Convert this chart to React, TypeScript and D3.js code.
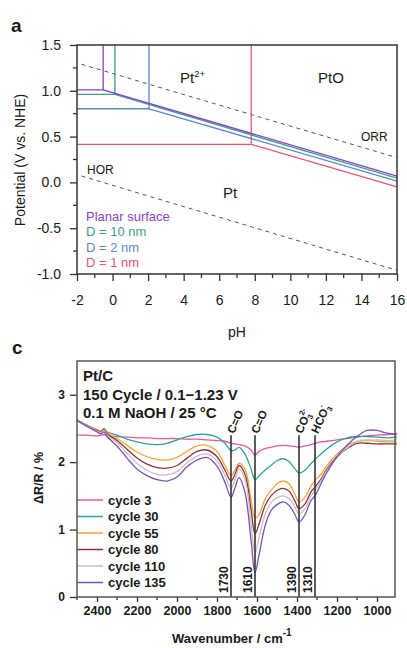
import React, { useEffect, useRef } from "react";
import * as d3 from "d3";

const FONT = "'Liberation Sans', Arial, Helvetica, sans-serif";

// ---- panel a : Pt Pourbaix diagram ----
const phTicks = [-2, 0, 2, 4, 6, 8, 10, 12, 14, 16];
const phMinor = [-1, 1, 3, 5, 7, 9, 11, 13, 15];
const potentialTicks = [-1, -0.5, 0, 0.5, 1, 1.5];
const potentialMinor = [-0.75, -0.25, 0.25, 0.75, 1.25];
const sizeLabels = ["Planar surface", "D = 10 nm", "D = 2 nm", "D = 1 nm"];
const sizeColors = ["#8b3fc8", "#3f9e8e", "#6286c4", "#e2566e"];
const dissolutionE = [1.01, 0.961, 0.804, 0.415]; // Pt / Pt2+ (V)
const oxidePH = [-0.53, 0.13, 2.05, 7.8]; // Pt2+ / PtO
const oxideEAt16 = [0.068, 0.046, 0.013, -0.049]; // Pt / PtO at pH 16
const orrLine: [number, number][] = [[-1.75, 1.29], [16, 0.27]];
const horLine: [number, number][] = [[-1.75, 0.07], [16, -0.96]];

// ---- panel c : IR spectra ----
const wavenumbers = [
  2500, 2450, 2400, 2380, 2365, 2350, 2300, 2250, 2200, 2150, 2100, 2050, 2000,
  1950, 1900, 1850, 1800, 1760, 1730, 1710, 1690,
  1660, 1630, 1610, 1590, 1560, 1530, 1500, 1470,
  1440, 1410, 1390, 1360, 1330, 1310, 1280, 1250,
  1200, 1150, 1100, 1050, 1000, 950, 900,
];
const cycle3 = [
  2.40, 2.40, 2.39, 2.40, 2.41, 2.39, 2.38, 2.37, 2.36, 2.36, 2.35, 2.35, 2.35,
  2.34, 2.34, 2.33, 2.32, 2.31, 2.28, 2.27, 2.26,
  2.24, 2.18, 2.10, 2.16, 2.20, 2.22, 2.24, 2.25,
  2.24, 2.23, 2.22, 2.24, 2.26, 2.28, 2.30, 2.31,
  2.33, 2.35, 2.37, 2.39, 2.40, 2.41, 2.41,
];
const cycle30 = [
  2.62, 2.55, 2.48, 2.46, 2.50, 2.45, 2.40, 2.34, 2.30, 2.27, 2.26, 2.28, 2.33,
  2.38, 2.41, 2.41, 2.37, 2.28, 2.17, 2.18, 2.22,
  2.12, 1.90, 1.74, 1.80, 1.88, 1.95, 2.02, 2.05,
  2.01, 1.90, 1.84, 1.88, 1.98, 2.04, 2.12, 2.20,
  2.30, 2.36, 2.38, 2.38, 2.37, 2.36, 2.37,
];
const cycle55 = [
  2.62, 2.55, 2.48, 2.46, 2.49, 2.44, 2.35, 2.25, 2.15, 2.08, 2.04, 2.03, 2.07,
  2.16, 2.24, 2.25, 2.16, 1.95, 1.80, 1.88, 1.98,
  1.90, 1.45, 1.17, 1.22, 1.45, 1.58, 1.68, 1.72,
  1.68, 1.52, 1.41, 1.48, 1.65, 1.73, 1.82, 1.95,
  2.12, 2.24, 2.31, 2.32, 2.31, 2.30, 2.30,
];
const cycle80 = [
  2.62, 2.54, 2.47, 2.45, 2.48, 2.42, 2.32, 2.19, 2.06, 1.97, 1.92, 1.91, 1.95,
  2.06, 2.16, 2.18, 2.08, 1.88, 1.72, 1.82, 1.95,
  1.82, 1.30, 0.94, 1.08, 1.35, 1.50, 1.58, 1.61,
  1.57, 1.42, 1.31, 1.38, 1.56, 1.63, 1.75, 1.90,
  2.08, 2.20, 2.28, 2.28, 2.27, 2.27, 2.27,
];
const cycle110 = [
  2.62, 2.54, 2.46, 2.44, 2.47, 2.40, 2.29, 2.13, 1.98, 1.88, 1.82, 1.81, 1.86,
  1.99, 2.09, 2.12, 2.02, 1.80, 1.61, 1.74, 1.90,
  1.74, 1.10, 0.65, 0.88, 1.22, 1.40, 1.47, 1.50,
  1.46, 1.33, 1.23, 1.31, 1.50, 1.58, 1.72, 1.88,
  2.07, 2.21, 2.31, 2.33, 2.33, 2.32, 2.33,
];
const cycle135 = [
  2.62, 2.53, 2.45, 2.42, 2.45, 2.38, 2.24, 2.06, 1.90, 1.80, 1.74, 1.72, 1.78,
  1.93, 2.03, 2.07, 1.94, 1.70, 1.48, 1.62, 1.77,
  1.55, 0.85, 0.36, 0.62, 1.05, 1.28, 1.37, 1.41,
  1.36, 1.22, 1.11, 1.22, 1.43, 1.50, 1.68, 1.85,
  2.08, 2.25, 2.38, 2.47, 2.47, 2.43, 2.42,
];
const cycleNames = ["cycle 3", "cycle 30", "cycle 55", "cycle 80", "cycle 110", "cycle 135"];
const cycleSeries = [cycle3, cycle30, cycle55, cycle80, cycle110, cycle135];
const cycleColors = ["#e8589a", "#2ea293", "#f5a33e", "#933038", "#c2c2c2", "#7b52b8"];
const bandPositions = [1730, 1610, 1390, 1310];
const wavenumberTicks = [2400, 2200, 2000, 1800, 1600, 1400, 1200, 1000];
const wavenumberMinor = [2500, 2300, 2100, 1900, 1700, 1500, 1300, 1100];
const signalTicks = [0, 1, 2, 3];

function styleAxis(axis, size) {
  axis.select(".domain").remove();
  axis.selectAll("line").attr("stroke", "#333").attr("stroke-width", 1.3);
  axis.selectAll("text").attr("font-family", FONT).attr("font-size", size).attr("fill", "#1a1a1a");
}

function drawPourbaix(g) {
  const x = d3.scaleLinear().domain([-2, 16]).range([77, 397]);
  const y = d3.scaleLinear().domain([-1, 1.5]).range([274, 45]);

  // minor ticks
  g.selectAll(".xminor").data(phMinor).join("line")
    .attr("x1", (d) => x(d)).attr("x2", (d) => x(d))
    .attr("y1", 274).attr("y2", 278)
    .attr("stroke", "#333").attr("stroke-width", 1.3);
  g.selectAll(".yminor").data(potentialMinor).join("line")
    .attr("x1", 73).attr("x2", 77)
    .attr("y1", (d) => y(d)).attr("y2", (d) => y(d))
    .attr("stroke", "#333").attr("stroke-width", 1.3);

  const xAxis = g.append("g").attr("transform", "translate(0,274)")
    .call(d3.axisBottom(x).tickValues(phTicks).tickSize(7).tickPadding(14).tickFormat((d) => String(d)));
  styleAxis(xAxis, 14);
  const yAxis = g.append("g").attr("transform", "translate(77,0)")
    .call(d3.axisLeft(y).tickValues(potentialTicks).tickSize(7).tickPadding(9).tickFormat((d) => d.toFixed(1)));
  styleAxis(yAxis, 14);

  const line = d3.line<[number, number]>().x((d) => x(d[0])).y((d) => y(d[1]));

  // reference lines
  [orrLine, horLine].forEach((pts) => {
    g.append("path").attr("d", line(pts)).attr("fill", "none")
      .attr("stroke", "#555").attr("stroke-width", 1).attr("stroke-dasharray", "4,4");
  });

  // phase boundaries, smallest particle first so the planar surface is on top
  for (let i = sizeLabels.length - 1; i >= 0; i--) {
    const e = dissolutionE[i];
    const p = oxidePH[i];
    g.append("path")
      .attr("d", line([[-2, e], [p, e], [p, 1.5]]))
      .attr("fill", "none").attr("stroke", sizeColors[i]).attr("stroke-width", 1.3);
    g.append("path")
      .attr("d", line([[p, e], [16, oxideEAt16[i]]]))
      .attr("fill", "none").attr("stroke", sizeColors[i]).attr("stroke-width", 1.3);
  }

  g.append("rect").attr("x", 77).attr("y", 45).attr("width", 320).attr("height", 229)
    .attr("fill", "none").attr("stroke", "#333").attr("stroke-width", 1.5);

  const t = g.append("g").attr("font-family", FONT).attr("fill", "#1a1a1a");
  const pt2 = t.append("text").attr("x", 180).attr("y", 83).attr("font-size", 15);
  pt2.append("tspan").text("Pt");
  pt2.append("tspan").attr("font-size", 9.5).attr("dy", -6).text("2+");
  t.append("text").attr("x", 318).attr("y", 83).attr("font-size", 15).text("PtO");
  t.append("text").attr("x", 361).attr("y", 141).attr("font-size", 12).text("ORR");
  t.append("text").attr("x", 87).attr("y", 174).attr("font-size", 12).text("HOR");
  t.append("text").attr("x", 223).attr("y", 198).attr("font-size", 15).text("Pt");

  sizeLabels.forEach((s, i) => {
    t.append("text").attr("x", 86).attr("y", 220.5 + i * 15.5)
      .attr("font-size", 13).attr("fill", sizeColors[i]).text(s);
  });

  t.append("text").attr("x", 237).attr("y", 337).attr("font-size", 14)
    .attr("text-anchor", "middle").text("pH");
  t.append("text").attr("transform", "translate(25,160) rotate(-90)")
    .attr("font-size", 14).attr("text-anchor", "middle").text("Potential (V vs. NHE)");
  t.append("text").attr("x", 11).attr("y", 32).attr("font-size", 19)
    .attr("font-weight", "bold").text("a");
}

function drawSpectra(g) {
  const x = d3.scaleLinear().domain([2500, 910]).range([77, 395]);
  const y = d3.scaleLinear().domain([0, 3.5]).range([597, 361]);

  g.selectAll(".xminor").data(wavenumberMinor).join("line")
    .attr("x1", (d) => x(d)).attr("x2", (d) => x(d))
    .attr("y1", 597).attr("y2", 600)
    .attr("stroke", "#333").attr("stroke-width", 1.3);

  const xAxis = g.append("g").attr("transform", "translate(0,597)")
    .call(d3.axisBottom(x).tickValues(wavenumberTicks).tickSize(5).tickPadding(4).tickFormat((d) => String(d)));
  styleAxis(xAxis, 12.5);
  xAxis.selectAll("text").attr("font-weight", "bold");
  const yAxis = g.append("g").attr("transform", "translate(77,0)")
    .call(d3.axisLeft(y).tickValues(signalTicks).tickSize(7).tickPadding(5).tickFormat((d) => String(d)));
  styleAxis(yAxis, 12);
  yAxis.selectAll("text").attr("font-weight", "bold");

  const line = d3.line<number>()
    .x((_, i) => x(wavenumbers[i]))
    .y((d) => y(d))
    .curve(d3.curveCatmullRom.alpha(0.5));

  cycleSeries.forEach((s, i) => {
    g.append("path").attr("d", line(s)).attr("fill", "none")
      .attr("stroke", cycleColors[i]).attr("stroke-width", 1.3);
  });

  // band markers
  const t = g.append("g").attr("font-family", FONT).attr("font-weight", "bold").attr("fill", "#1a1a1a");
  bandPositions.forEach((w, i) => {
    g.append("line").attr("x1", x(w)).attr("x2", x(w))
      .attr("y1", y(0)).attr("y2", y(2.4))
      .attr("stroke", "#333").attr("stroke-width", 1.6);
    t.append("text")
      .attr("transform", `translate(${x(w) - 3},593) rotate(-90)`)
      .attr("font-size", 12).text(String(w));
    const lab = t.append("text")
      .attr("transform", `translate(${x(w) + 3},${y(2.4) - 1}) rotate(-66)`)
      .attr("font-size", 11.5);
    if (i < 2) {
      lab.text("C=O");
    } else if (i === 2) {
      lab.append("tspan").text("CO");
      lab.append("tspan").attr("font-size", 7.5).attr("dy", 3).text("3");
      lab.append("tspan").attr("font-size", 7.5).attr("dx", -4).attr("dy", -9).text("2-");
    } else {
      lab.append("tspan").text("HCO");
      lab.append("tspan").attr("font-size", 7.5).attr("dy", 3).text("3");
      lab.append("tspan").attr("font-size", 7.5).attr("dx", -4).attr("dy", -9).text("-");
    }
  });

  cycleNames.forEach((c, i) => {
    const yy = 504.5 + i * 16.5;
    g.append("line").attr("x1", 77).attr("x2", 103).attr("y1", yy - 4.5).attr("y2", yy - 4.5)
      .attr("stroke", cycleColors[i]).attr("stroke-width", 1.5);
    t.append("text").attr("x", 108).attr("y", yy).attr("font-size", 13).text(c);
  });

  g.append("rect").attr("x", 77).attr("y", 361).attr("width", 318).attr("height", 236)
    .attr("fill", "none").attr("stroke", "#555").attr("stroke-width", 1.5);

  t.append("text").attr("x", 83).attr("y", 381).attr("font-size", 15).text("Pt/C");
  t.append("text").attr("x", 83).attr("y", 400).attr("font-size", 15).text("150 Cycle / 0.1\u22121.23 V");
  t.append("text").attr("x", 83).attr("y", 418).attr("font-size", 15).text("0.1 M NaOH / 25 \u00B0C");

  t.append("text").attr("transform", "translate(43,478) rotate(-90)")
    .attr("font-size", 12.5).attr("text-anchor", "middle").text("\u0394R/R / %");
  const xl = t.append("text").attr("x", 172).attr("y", 643).attr("font-size", 13);
  xl.append("tspan").text("Wavenumber / cm");
  xl.append("tspan").attr("font-size", 10).attr("dy", -7).text("-1");
  t.append("text").attr("x", 12).attr("y", 354).attr("font-size", 19).text("c");
}

function App() {
  const svgRef = useRef<SVGSVGElement>(null);

  useEffect(() => {
    const svg = d3.select(svgRef.current);
    svg.selectAll("*").remove();
    svg.append("rect").attr("width", 407).attr("height", 648).attr("fill", "#fff");
    drawPourbaix(svg.append("g"));
    drawSpectra(svg.append("g"));
  }, []);

  return (
    <div style={{ position: "absolute", left: 0, top: 0 }}>
      <svg ref={svgRef} width={407} height={648} style={{ display: "block" }} />
    </div>
  );
}

export default App;
